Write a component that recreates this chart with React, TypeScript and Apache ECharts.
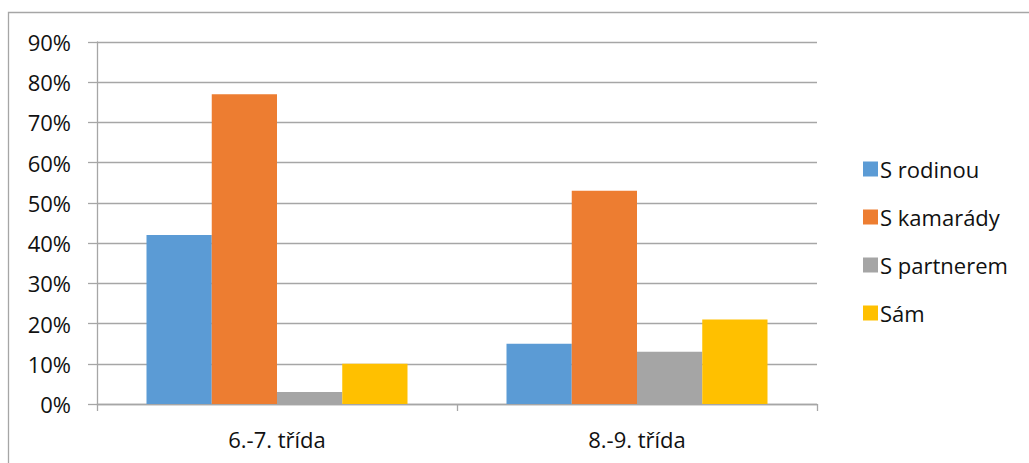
import React, { useEffect, useRef } from "react";
import * as echarts from "echarts";

const categories = ["6.-7. třída", "8.-9. třída"];
const seriesNames = ["S rodinou", "S kamarády", "S partnerem", "Sám"];
const sRodinou = [42, 15];
const sKamarady = [77, 53];
const sPartnerem = [3, 13];
const sam = [10, 21];
const seriesValues = [sRodinou, sKamarady, sPartnerem, sam];
const colors = ["#5b9bd5", "#ed7d31", "#a5a5a5", "#ffc000"];

const FONT = "'Open Sans', 'Noto Sans', sans-serif";

export default function App() {
  const ref = useRef<HTMLDivElement>(null);
  useEffect(() => {
    if (!ref.current) return;
    const chart = echarts.init(ref.current, undefined, { renderer: "svg" });
    chart.setOption({
      animation: false,
      backgroundColor: "#ffffff",
      textStyle: { fontFamily: FONT },
      graphic: [
        {
          type: "rect",
          shape: { x: 8.5, y: 12.5, width: 1100, height: 600 },
          style: { fill: "none", stroke: "#a6a6a6", lineWidth: 1.3 },
          silent: true,
        },
      ],
      grid: { left: 97, right: 212, top: 42, bottom: 59, containLabel: false },
      legend: {
        orient: "vertical",
        left: 858,
        top: 153,
        itemWidth: 15,
        itemHeight: 15,
        itemGap: 26,
        icon: "rect",
        textStyle: { fontFamily: FONT, fontSize: 22, color: "#111", lineHeight: 22, padding: [0, 0, 0, -3] },
        data: seriesNames,
      },
      xAxis: {
        type: "category",
        data: categories,
        axisLine: { show: true, lineStyle: { color: "#a6a6a6", width: 1.3 } },
        axisTick: { show: true, length: 7, alignWithLabel: false, lineStyle: { color: "#a6a6a6", width: 1.3 } },
        axisLabel: { fontFamily: FONT, fontSize: 22, color: "#111", margin: 24 },
        splitLine: { show: false },
      },
      yAxis: {
        type: "value",
        min: 0,
        max: 90,
        interval: 10,
        axisLine: { show: true, lineStyle: { color: "#a6a6a6", width: 1.3 } },
        axisTick: { show: true, length: 9, lineStyle: { color: "#a6a6a6", width: 1.3 } },
        axisLabel: { fontFamily: FONT, fontSize: 22, color: "#111", margin: 26, formatter: "{value}%" },
        splitLine: { show: true, lineStyle: { color: "#a6a6a6", width: 1.3 } },
      },
      series: seriesNames.map((name, i) => ({
        name,
        type: "bar",
        data: seriesValues[i],
        barGap: "0%",
        barCategoryGap: "27.5%",
        itemStyle: { color: colors[i] },
      })),
    });
    return () => chart.dispose();
  }, []);
  return (
    <div
      ref={ref}
      style={{ position: "fixed", left: 0, top: 0, width: 1029, height: 463 }}
    />
  );
}
